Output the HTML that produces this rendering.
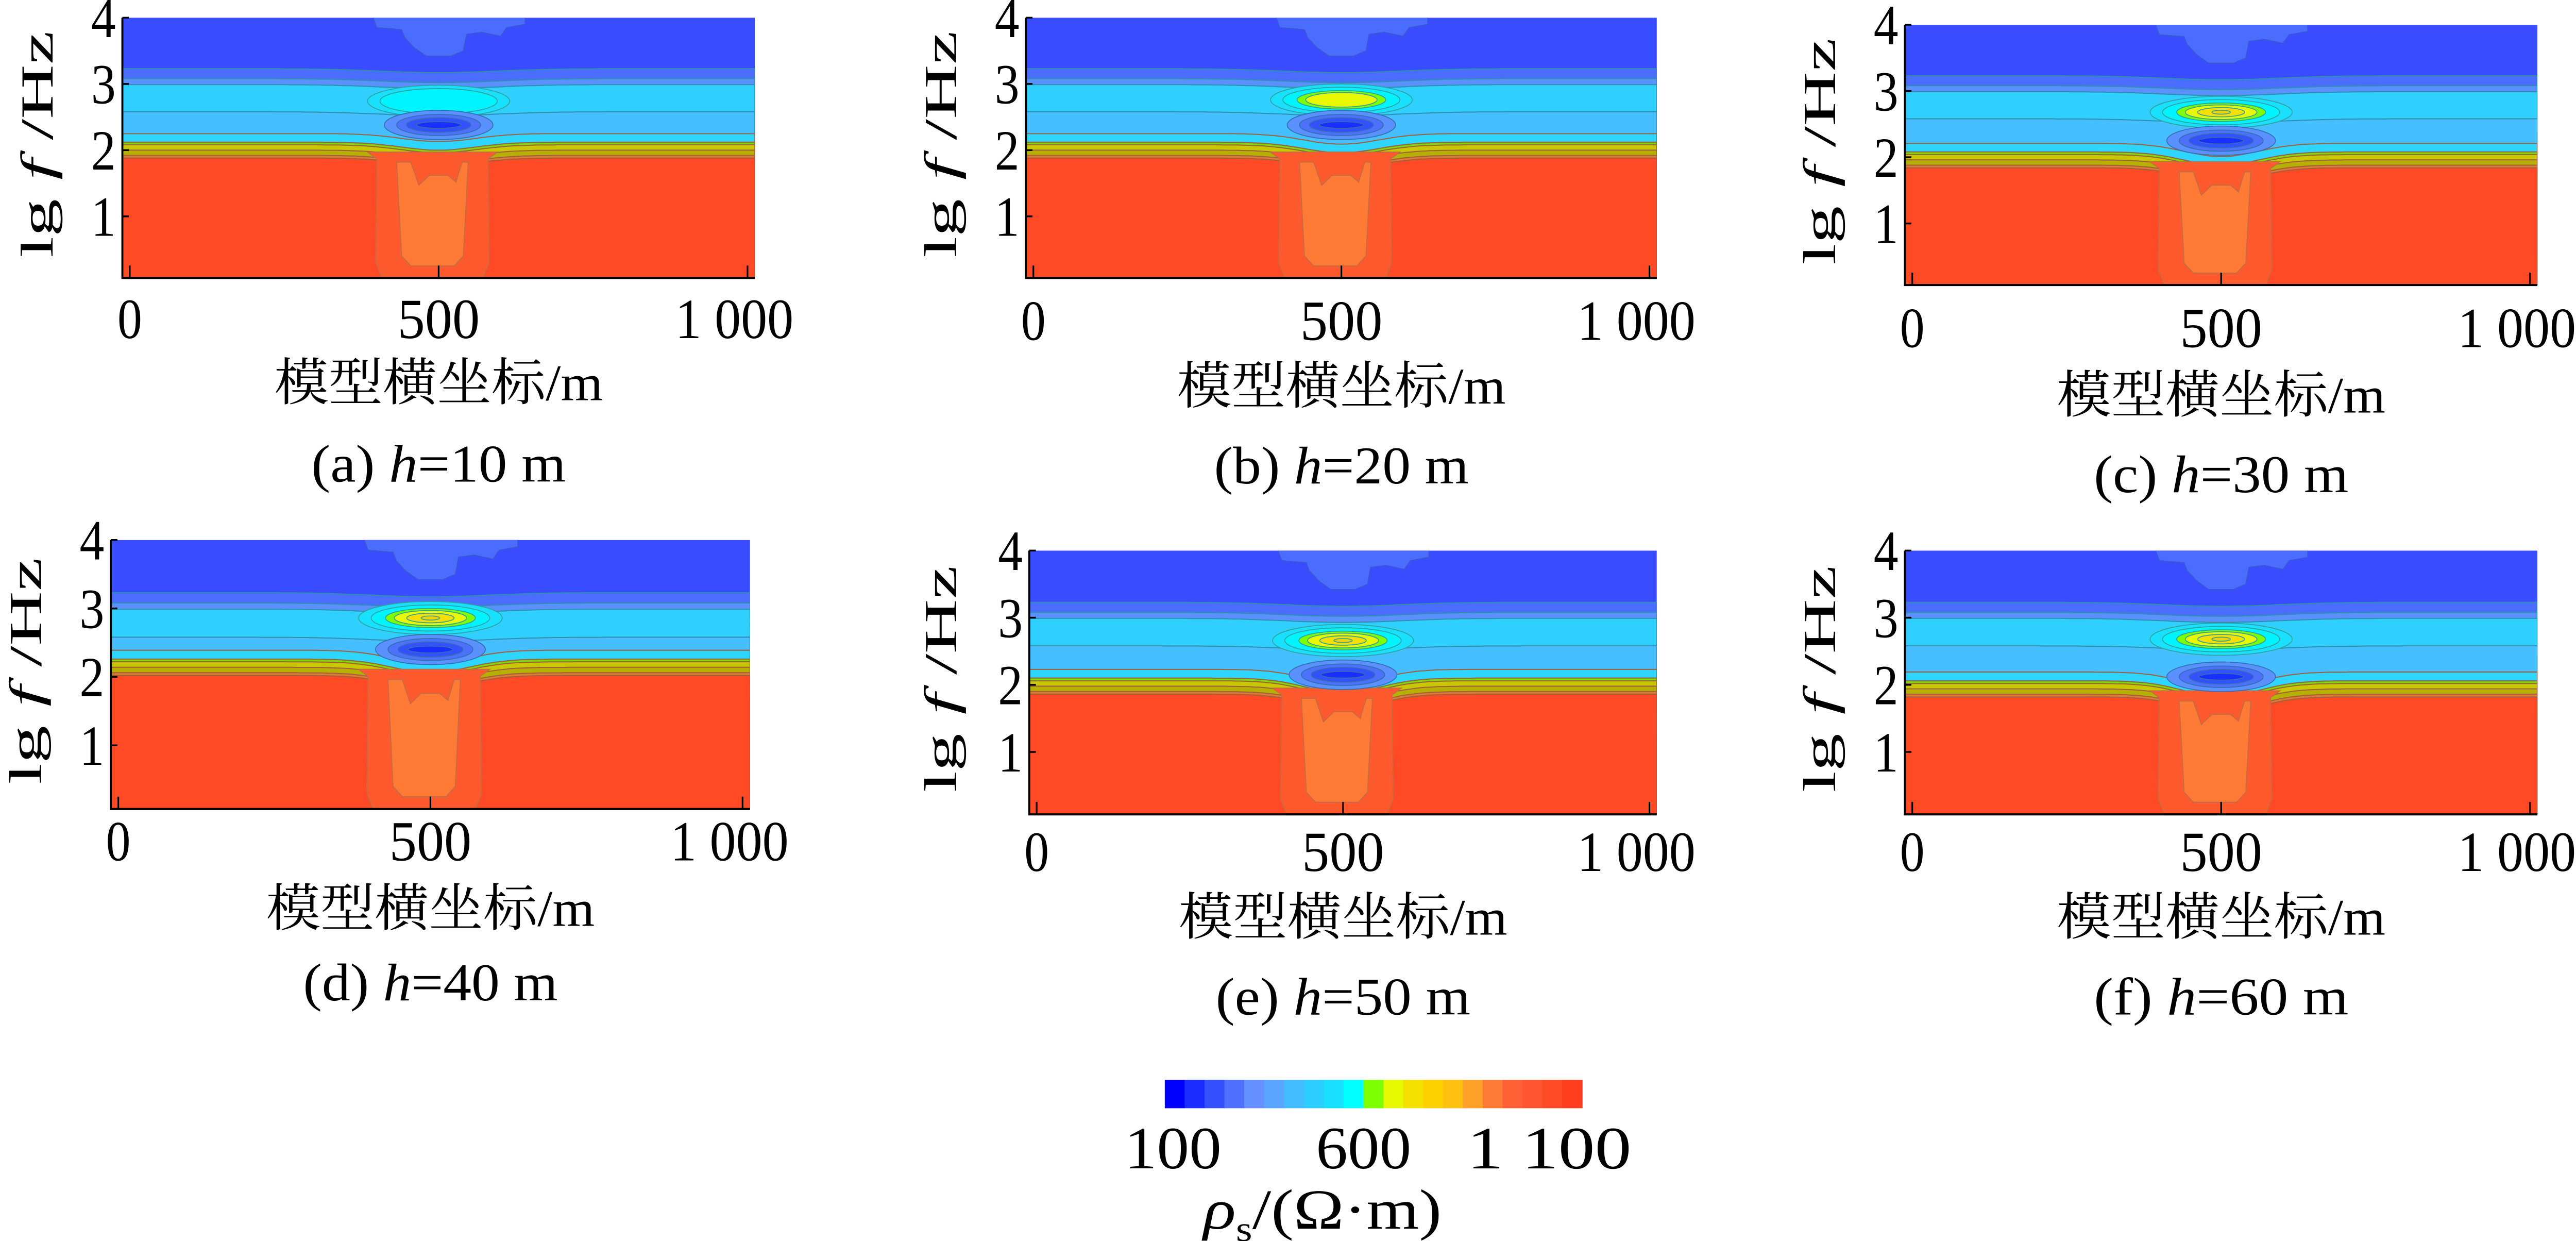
<!DOCTYPE html>
<html><head><meta charset="utf-8"><style>
html,body{margin:0;padding:0;background:#fff;width:100%;height:100%;overflow:hidden;}
svg{display:block;width:100vw;height:100vh;}
text{font-family:"Liberation Serif","Noto Serif CJK SC",serif;fill:#000;}
.cjk{font-family:"Liberation Serif","Noto Serif CJK SC","Noto Sans CJK SC",serif;}
</style></head><body>
<svg id="fig" viewBox="0 0 1568 701" preserveAspectRatio="none" xmlns="http://www.w3.org/2000/svg">
<defs id="defs"></defs>
</svg>
<script>
// ---- data ----
const panelLabels = ['(a)','(b)','(c)','(d)','(e)','(f)'];
const heights = [10,20,30,40,50,60];
const lowerShift = [0.02,0.02,-0.02,0.16,0.0,-0.04];
const lowerDip = [0.12,0.16,0.2,0.2,0.22,0.24];
const yellowCenter = [2.74,2.76,2.68,2.86,2.66,2.68];
const yellowLevels = [2,4,6,6,6,6];
const darkCenter = [2.38,2.38,2.25,2.4,2.15,2.12];
const xTicks = [0,500,1000];
const xTickLabels = ['0','500','1 000'];
const yTicks = [1,2,3,4];
const upperBounds = [3.23,3.08,2.99,2.58];
const upperColors = ['#4a6cff','#5a90ff','#2fd0ff','#45bfff'];
const lowerBounds = [2.23,2.1,2.06,1.98,1.9,1.86];
const lowerColors = ['#2dd5ff','#7cdd00','#c8c800','#b8b000','#e07a30','#ff4a25'];
const cbColors = ['#0000ff','#1a2eff','#3550ff','#4d70ff','#6590ff','#5aa5ff','#45bcff','#2ccdff','#1ae0ff','#00ffff','#7cff00','#e8f800','#f5e000','#ffd000','#ffc010','#ffa028','#ff7a35','#ff6035','#ff5430','#ff4a28','#ff3e20'];
const cbTickValues = [100,600,1100];
const cbTickLabels = ['100','600','1 100'];
// ---- layout ----
const layout = [
 {x0:79,x1:455,top:10,bot:157,ty:191,xl:226,cap:272,yl:22},
 {x0:629,x1:1004,top:10,bot:157,ty:192,xl:228,cap:273,yl:572},
 {x0:1164,x1:1540,top:14,bot:161,ty:196,xl:233,cap:278,yl:1107},
 {x0:72,x1:452,top:305,bot:457,ty:486,xl:523,cap:565,yl:15},
 {x0:631,x1:1004,top:311,bot:460,ty:492,xl:528,cap:573,yl:572},
 {x0:1164,x1:1540,top:311,bot:460,ty:492,xl:528,cap:573,yl:1107}
];
const tickLabelWidths = [15,50,72];
const NS='http://www.w3.org/2000/svg';
const svg=document.getElementById('fig');
function mk(tag,attrs,parent){const e=document.createElementNS(NS,tag);for(const k in attrs)e.setAttribute(k,attrs[k]);(parent||svg).appendChild(e);return e;}
const M0=-12,M1=1012,V0=0.07,V1=4;
layout.forEach((L,i)=>{
  const sx=m=>L.x0+m*(L.x1-L.x0)/1000;
  const sy=v=>L.top+(V1-v)*(L.bot-L.top)/(V1-V0);
  const g=mk('g',{});
  
  
  const cp=mk('clipPath',{id:'clip'+i},document.getElementById('defs'));
  mk('rect',{x:sx(M0),y:L.top,width:sx(M1)-sx(M0),height:L.bot-L.top},cp);
  const f=mk('g',{'clip-path':'url(#clip'+i+')'},g);
  
  
  mk('rect',{x:sx(M0),y:L.top,width:sx(M1)-sx(M0),height:L.bot-L.top,fill:'#3a4cff'},f);
  const blob=[[390,4.1],[400,3.85],[440,3.82],[445,3.7],[460,3.55],[480,3.42],[520,3.42],[540,3.5],[545,3.75],[570,3.78],[600,3.72],[610,3.85],[640,3.9],[640,4.1]];
  mk('path',{d:'M'+blob.map(p=>sx(p[0])+','+sy(p[1])).join('L')+'Z',fill:'#4a6cff',stroke:'#3a58d0','stroke-width':0.5},f);
  function band(b,dip,w,color,stroke){
    let d='';
    for(let m=M0;m<=M1;m+=8){const v=b-dip*Math.exp(-Math.pow((m-500)/w,2));d+=(d?'L':'M')+sx(m).toFixed(1)+','+sy(v).toFixed(1);}
    d+='L'+sx(M1)+','+(L.bot+2)+'L'+sx(M0)+','+(L.bot+2)+'Z';
    const p=mk('path',{d:d,fill:color,stroke:stroke,'stroke-width':0.6},f);
    
    
  }
  upperBounds.forEach((b,k)=>band(b,0.06,130,upperColors[k],'#2e8fb0'));
  lowerBounds.forEach((b,k)=>band(b+lowerShift[i],lowerDip[i],85,lowerColors[k],'#a06040'));
  const colOuter=[[385,1.95],[400,1.85],[398,0.3],[408,0.07],[572,0.07],[582,0.3],[580,1.85],[595,1.95]];
  mk('path',{d:'M'+colOuter.map(p=>sx(p[0])+','+sy(p[1]+(p[1]>1?lowerShift[i]:0))).join('L')+'Z',fill:'#ff5a2e',stroke:'#c86a40','stroke-width':0.6},f);
  const colInner=[[432,1.8],[440,0.4],[455,0.25],[525,0.25],[540,0.4],[548,1.8],[538,1.8],[528,1.5],[515,1.6],[485,1.6],[468,1.45],[455,1.8]];
  mk('path',{d:'M'+colInner.map(p=>sx(p[0])+','+sy(p[1]+(p[1]>1.4?lowerShift[i]:0))).join('L')+'Z',fill:'#ff7a35',stroke:'#c86a40','stroke-width':0.6},f);
  const yr=[[115,0.24,'#1ae0ff'],[95,0.19,'#00f4ff'],[72,0.14,'#7cff00'],[58,0.11,'#e8f800'],[38,0.07,'#f5e000'],[15,0.03,'#f0d400']];
  for(let k=0;k<yellowLevels[i];k++){
    const e=mk('ellipse',{cx:sx(500),cy:sy(yellowCenter[i]),rx:yr[k][0]*(L.x1-L.x0)/1000,ry:yr[k][1]*(L.bot-L.top)/(V1-V0),fill:yr[k][2],stroke:'#30a0a0','stroke-width':0.5},f);
    
    
  }
  const dr=[[88,0.22,'#5a90ff'],[68,0.16,'#4d70ff'],[52,0.11,'#3550ff'],[36,0.05,'#1a2eff']];
  dr.forEach(r=>{
    const e=mk('ellipse',{cx:sx(500),cy:sy(darkCenter[i]),rx:r[0]*(L.x1-L.x0)/1000,ry:r[1]*(L.bot-L.top)/(V1-V0),fill:r[2],stroke:'#3070b0','stroke-width':0.5},f);
    
    
  });
  const ax=mk('path',{d:'M'+sx(M0)+','+L.top+'L'+sx(M0)+','+L.bot+'L'+sx(M1)+','+L.bot,fill:'none',stroke:'#000','stroke-width':1.2},g);
  
  
  yTicks.forEach(v=>{
    mk('line',{x1:sx(M0),x2:sx(M0)+4,y1:sy(v),y2:sy(v),stroke:'#000','stroke-width':1},g);
    const t=mk('text',{x:sx(M0)-4,y:sy(v)+11,'font-size':32,'text-anchor':'end',textLength:15,lengthAdjust:'spacingAndGlyphs'},g);
    t.textContent=v;
    
    
  });
  xTicks.forEach((m,k)=>{
    mk('line',{x1:sx(m),x2:sx(m),y1:L.bot,y2:L.bot-7,stroke:'#000','stroke-width':1},g);
    const t=mk('text',{x:sx(m)-(k==2?8:0),y:L.ty,'font-size':32,'text-anchor':'middle',textLength:tickLabelWidths[k],lengthAdjust:'spacingAndGlyphs'},g);
    t.textContent=xTickLabels[k];
    
    
  });
  const cx=(sx(M0)+sx(M1))/2;
  const xl=mk('text',{x:cx,y:L.xl,'font-size':29,'text-anchor':'middle','class':'cjk',textLength:200,lengthAdjust:'spacingAndGlyphs'},g);
  xl.textContent='模型横坐标/m';
  
  
  const yl=mk('text',{x:0,y:0,'font-size':28,'text-anchor':'middle',textLength:128,lengthAdjust:'spacingAndGlyphs',transform:'translate('+(L.yl+10)+','+((L.top+L.bot)/2-2)+') rotate(-90)'},g);
  yl.innerHTML='lg <tspan font-style="italic">f</tspan> /Hz';
  
  
  const cap=mk('text',{x:cx,y:L.cap,'font-size':30,'text-anchor':'middle',textLength:155,lengthAdjust:'spacingAndGlyphs'},g);
  cap.innerHTML=panelLabels[i]+'  <tspan font-style="italic">h</tspan>='+heights[i]+' m';
  cap.setAttribute('xml:space','preserve');
  
  
});
const cb=mk('g',{});


const cbX0=709,cbX1=963,cbY=610,cbH=16;
const cw=(cbX1-cbX0)/cbColors.length;
cbColors.forEach((c,k)=>{
  const r=mk('rect',{x:cbX0+k*cw,y:cbY,width:cw+0.3,height:cbH,fill:c},cb);
  
  
});
const cbx=v=>cbX0+5+(v-100)*(cbX1-cbX0-10)/1000;
const cbLabelWidths=[59,58,100];
const cbLabelOffsets=[0,-6,-15];
cbTickValues.forEach((v,k)=>{
  const t=mk('text',{x:cbx(v)+cbLabelOffsets[k],y:660,'font-size':34,'text-anchor':'middle',textLength:cbLabelWidths[k],lengthAdjust:'spacingAndGlyphs'},cb);
  t.textContent=cbTickLabels[k];
  
  
});
const ct=mk('text',{x:805,y:694,'font-size':32,'text-anchor':'middle',textLength:145,lengthAdjust:'spacingAndGlyphs'},cb);
ct.innerHTML='<tspan font-style="italic">ρ</tspan><tspan font-size="20" dy="7">s</tspan><tspan dy="-7">/(Ω·m)</tspan>';


</script>
</body></html>
